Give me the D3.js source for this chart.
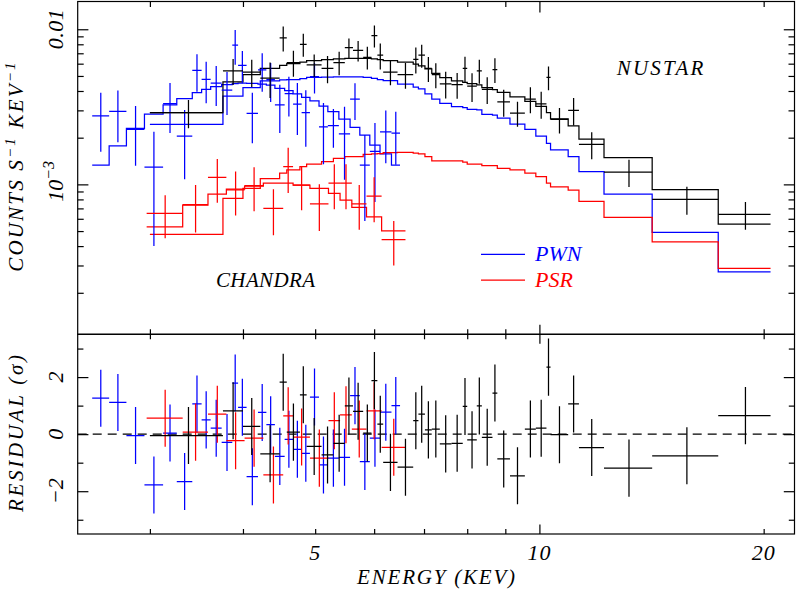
<!DOCTYPE html>
<html><head><meta charset="utf-8">
<script src="https://cdn.jsdelivr.net/npm/d3@7"></script>
<style>
body{margin:0;background:#fff;}
svg{display:block;}
text{font-family:"Liberation Serif","DejaVu Serif",serif;font-style:italic;}
</style></head><body>
<svg id="c" width="797" height="592"></svg>
<script>
// ---------- NuSTAR (black) ----------
const nuEdges = [3.00,3.76,4.00,4.22,4.48,4.58,4.77,4.87,5.10,5.29,5.48,5.62,5.80,5.95,6.06,6.17,6.45,6.77,6.88,7.02,7.17,7.35,7.62,7.89,8.00,8.24,8.37,8.65,8.78,9.13,9.56,9.89,10.22,10.35,10.93,11.30,12.21,14.17,17.38,20.43];
const nuFlux = [0.00290,0.00540,0.00530,0.00485,0.00880,0.00610,0.00800,0.00590,0.00560,0.00610,0.00760,0.00730,0.00660,0.00910,0.00680,0.00530,0.00510,0.00640,0.00680,0.00560,0.00510,0.00445,0.00440,0.00560,0.00430,0.00540,0.00410,0.00550,0.00340,0.00288,0.00355,0.00330,0.00490,0.00262,0.00300,0.00181,0.00120,0.00080,0.00064];
const nuErr = [0.00060,0.00103,0.00106,0.00125,0.00160,0.00116,0.00134,0.00098,0.00112,0.00105,0.00112,0.00110,0.00110,0.00147,0.00130,0.00095,0.00096,0.00122,0.00116,0.00103,0.00094,0.00087,0.00083,0.00104,0.00090,0.00095,0.00080,0.00100,0.00067,0.00053,0.00068,0.00065,0.00086,0.00049,0.00060,0.00036,0.00024,0.000164,0.00013];
const nuModel = [0.00290,0.00458,0.00510,0.00560,0.00585,0.00600,0.00615,0.00628,0.00638,0.00644,0.00648,0.00648,0.00648,0.00644,0.00638,0.00628,0.00614,0.00595,0.00580,0.00556,0.00520,0.00488,0.00465,0.00455,0.00446,0.00438,0.00420,0.00408,0.00392,0.00366,0.00343,0.00318,0.00290,0.00264,0.00238,0.00196,0.00149,0.000925,0.000555];
const nuPwnModel = [0.00244,0.00371,0.00420,0.00464,0.00471,0.00474,0.00480,0.00490,0.00492,0.00494,0.00494,0.00494,0.00489,0.00483,0.00474,0.00466,0.00443,0.00423,0.00412,0.00383,0.00355,0.00333,0.00317,0.00313,0.00305,0.00302,0.00283,0.00280,0.00267,0.00245,0.00226,0.00205,0.00184,0.00167,0.00151,0.00121,0.000866,0.000490,0.000273];
const nuPsrModel = [0.000476,0.000812,0.000942,0.00109,0.00118,0.00124,0.00130,0.00135,0.00140,0.00147,0.00151,0.00151,0.00156,0.00157,0.00158,0.00160,0.00161,0.00159,0.00157,0.00151,0.00142,0.00142,0.00142,0.00139,0.00135,0.00135,0.00132,0.00132,0.00127,0.00124,0.00118,0.00112,0.00102,0.000965,0.000919,0.000777,0.000612,0.000426,0.000287];
const nuResid = [-0.05,0.82,0.27,-0.69,1.82,0.07,1.38,-0.43,-0.73,-0.32,0.99,0.80,0.04,1.88,0.35,-0.99,-1.16,0.47,0.70,0.15,0.18,-0.34,-0.32,0.97,-0.20,0.99,-0.11,1.44,-0.87,-1.46,0.18,0.21,2.35,-0.02,1.06,-0.47,-1.19,-0.76,0.65];

// ---------- Chandra PWN (blue) ----------
const pwnEdges = [2.51,2.645,2.79,2.95,3.125,3.26,3.42,3.52,3.62,3.745,3.87,3.94,4.045,4.19,4.30,4.415,4.55,4.67,4.795,4.92,5.06,5.20,5.38,5.57,5.74,5.92,6.11,6.33,6.50];
const pwnFlux = [0.00276,0.00295,0.00226,0.00129,0.00332,0.00205,0.00543,0.00475,0.00450,0.00405,0.00790,0.00586,0.00287,0.00548,0.00473,0.00326,0.00384,0.00329,0.00290,0.00495,0.00235,0.00239,0.00212,0.00354,0.00133,0.00163,0.00218,0.00214];
const pwnErr = [0.00114,0.00108,0.00094,0.00089,0.00118,0.00097,0.00147,0.00142,0.00130,0.00125,0.00200,0.00138,0.00103,0.00152,0.00133,0.00112,0.00110,0.00121,0.00115,0.00110,0.00100,0.00067,0.00105,0.00094,0.00075,0.00086,0.00081,0.00080];
const pwnModel = [0.00133,0.00177,0.00230,0.00284,0.00326,0.00357,0.00390,0.00410,0.00426,0.00440,0.00447,0.00450,0.00448,0.00443,0.00437,0.00416,0.00402,0.00383,0.00364,0.00346,0.00320,0.00294,0.00263,0.00233,0.00208,0.00179,0.00157,0.00133];
const pwnResid = [1.26,1.11,-0.05,-1.78,0.04,-1.66,1.06,0.50,0.21,-0.29,1.79,0.94,-1.49,0.76,0.33,-0.78,-0.18,-0.53,-0.67,1.30,-1.08,-0.84,-0.81,1.35,-0.96,-0.14,0.77,1.00];

// ---------- Chandra PSR (red) ----------
const psrEdges = [2.97,3.32,3.59,3.80,4.02,4.26,4.53,4.67,4.92,5.21,5.40,5.60,5.86,6.14,6.61];
const psrFlux = [0.00065,0.00074,0.00111,0.00092,0.00098,0.00070,0.00130,0.00099,0.00075,0.00102,0.00102,0.00075,0.00084,0.00044];
const psrErr = [0.00020,0.00025,0.00035,0.00029,0.00031,0.00023,0.00042,0.00031,0.00025,0.00033,0.00033,0.00024,0.00027,0.00014];
const psrModel = [0.000533,0.000735,0.000866,0.000933,0.000975,0.00102,0.00102,0.00099,0.000942,0.000875,0.000792,0.000711,0.000618,0.000502];
const psrResid = [0.56,0.07,0.70,-0.23,-0.14,-1.43,0.64,-0.10,-0.84,0.47,0.68,0.18,0.82,-0.46];

// ---------- axes ----------
const xMinorTicks = [3,4,5,6,7,8,9,20];
const xMajorTicks = [10];
const xTickLabels = [5,10,20];
const yMajorTicks = [1e-3,1e-2];
const yMinorTicks = [2e-4,3e-4,4e-4,5e-4,6e-4,7e-4,8e-4,9e-4,2e-3,3e-3,4e-3,5e-3,6e-3,7e-3,8e-3,9e-3];
const rMajorTicks = [-2,0,2];
const rMinorTicks = [-3,-1,1,3];

const BLUE="#0000ff", RED="#ff0000", BLACK="#000000";
const L=77.7, R=794.5, T1=1.5, B1=334.3, B2=534;
const svg=d3.select("#c");
const x=d3.scaleLog().domain([2.4,22]).range([L,R]);
const y=d3.scaleLog().domain([1.08e-4,0.0151]).range([B1,T1]);
const yr=d3.scaleLinear().domain([-3.5,3.5]).range([B2,B1]);

svg.append("defs").html(
 `<clipPath id="cp1"><rect x="${L}" y="${T1}" width="${R-L}" height="${B1-T1}"/></clipPath>
  <clipPath id="cp2"><rect x="${L}" y="${B1}" width="${R-L}" height="${B2-B1}"/></clipPath>`);

const gTop=svg.append("g").attr("clip-path","url(#cp1)");
const gBot=svg.append("g").attr("clip-path","url(#cp2)");

const SW=1.25;
const stepLine=d3.line().x(d=>x(d[0])).y(d=>y(d[1])).curve(d3.curveStepAfter);
function steps(edges, vals){const p=vals.map((v,i)=>[edges[i],v]);p.push([edges[edges.length-1],vals[vals.length-1]]);return p;}
function drawModel(edges, vals, col){
  gTop.append("path").attr("d",stepLine(steps(edges,vals))).attr("fill","none").attr("stroke",col).attr("stroke-width",SW);
}
function drawData(edges, flux, err, col){
  const g=gTop.append("g").attr("stroke",col).attr("stroke-width",SW);
  flux.forEach((f,i)=>{
    const lo=edges[i], hi=edges[i+1], c=(lo+hi)/2;
    g.append("line").attr("x1",x(lo)).attr("x2",x(hi)).attr("y1",y(f)).attr("y2",y(f));
    g.append("line").attr("x1",x(c)).attr("x2",x(c)).attr("y1",y(Math.max(f-err[i],1.0e-4))).attr("y2",y(f+err[i]));
  });
}
function drawResid(edges, res, col){
  const g=gBot.append("g").attr("stroke",col).attr("stroke-width",SW);
  res.forEach((r,i)=>{
    const lo=edges[i], hi=edges[i+1], c=(lo+hi)/2;
    g.append("line").attr("x1",x(lo)).attr("x2",x(hi)).attr("y1",yr(r)).attr("y2",yr(r));
    g.append("line").attr("x1",x(c)).attr("x2",x(c)).attr("y1",yr(r-1)).attr("y2",yr(r+1));
  });
}

// models
drawModel(pwnEdges,pwnModel,BLUE);
drawModel(psrEdges,psrModel,RED);
drawModel(nuEdges,nuPwnModel,BLUE);
drawModel(nuEdges,nuPsrModel,RED);
drawModel(nuEdges,nuModel,BLACK);
// data
drawData(pwnEdges,pwnFlux,pwnErr,BLUE);
drawData(psrEdges,psrFlux,psrErr,RED);
drawData(nuEdges,nuFlux,nuErr,BLACK);

// residuals
gBot.append("line").attr("x1",L).attr("x2",R).attr("y1",yr(0)).attr("y2",yr(0))
  .attr("stroke","#000").attr("stroke-width",1.1).attr("stroke-dasharray","9,6");
drawResid(pwnEdges,pwnResid,BLUE);
drawResid(psrEdges,psrResid,RED);
drawResid(nuEdges,nuResid,BLACK);

// frames
[[T1,B1],[B1,B2]].forEach(([a,b])=>{
  svg.append("rect").attr("x",L).attr("y",a).attr("width",R-L).attr("height",b-a)
    .attr("fill","none").attr("stroke","#000").attr("stroke-width",1.2);
});

// ticks via d3 axes
function tk(axisFn, scale, vals, size, tx, ty){
  svg.append("g").attr("transform",`translate(${tx},${ty})`)
    .call(axisFn(scale).tickValues(vals).tickSize(size).tickFormat(""))
    .call(g=>{g.select(".domain").remove();g.selectAll("line").attr("stroke","#000").attr("stroke-width",1.2);});
}
tk(d3.axisTop,x,xMinorTicks,-5.5,0,T1); tk(d3.axisTop,x,xMajorTicks,-11,0,T1);
tk(d3.axisBottom,x,xMinorTicks,-5,0,B1); tk(d3.axisBottom,x,xMajorTicks,-9.5,0,B1);
tk(d3.axisTop,x,xMinorTicks,-5,0,B1); tk(d3.axisTop,x,xMajorTicks,-9.5,0,B1);
tk(d3.axisBottom,x,xMinorTicks,-5,0,B2); tk(d3.axisBottom,x,xMajorTicks,-9.5,0,B2);
tk(d3.axisLeft,y,yMinorTicks,-6,L,0); tk(d3.axisLeft,y,yMajorTicks,-10.7,L,0);
tk(d3.axisRight,y,yMinorTicks,-6,R,0); tk(d3.axisRight,y,yMajorTicks,-10.7,R,0);
tk(d3.axisLeft,yr,rMinorTicks,-5.7,L,0); tk(d3.axisLeft,yr,rMajorTicks,-10.7,L,0);
tk(d3.axisRight,yr,rMinorTicks,-5.7,R,0); tk(d3.axisRight,yr,rMajorTicks,-10.7,R,0);

// tick labels
const FS=22;
xTickLabels.forEach(v=>{
  svg.append("text").attr("x",x(v)).attr("y",560).attr("text-anchor","middle").attr("font-size",FS).attr("letter-spacing",1).text(v);
});
svg.append("text").attr("transform",`translate(63,${y(0.01)}) rotate(-90)`).attr("text-anchor","middle")
  .attr("font-size",FS).attr("textLength",40).attr("lengthAdjust","spacing").text("0.01");
const t3=svg.append("text").attr("transform",`translate(63,${y(1e-3)-3}) rotate(-90)`).attr("text-anchor","middle").attr("font-size",FS);
t3.append("tspan").text("10");
t3.append("tspan").attr("dy",-9).attr("font-size",16).text("\u22123");
rMajorTicks.forEach(v=>{
  svg.append("text").attr("transform",`translate(63,${yr(v)}) rotate(-90)`).attr("text-anchor","middle")
    .attr("font-size",FS).text(v<0?"\u2212"+(-v):String(v));
});

// axis titles
svg.append("text").attr("x",(L+R)/2).attr("y",584).attr("text-anchor","middle").attr("font-size",21)
  .attr("textLength",158).attr("lengthAdjust","spacing").text("ENERGY (KEV)");
svg.append("text").attr("transform",`translate(23,433.5) rotate(-90)`).attr("text-anchor","middle").attr("font-size",21)
  .attr("textLength",157).attr("lengthAdjust","spacing").text("RESIDUAL (\u03c3)");
const yl=svg.append("text").attr("transform",`translate(23,166) rotate(-90)`).attr("text-anchor","middle")
  .attr("font-size",21).attr("letter-spacing",2.2);
yl.append("tspan").text("COUNTS S");
yl.append("tspan").attr("dy",-8).attr("font-size",15).text("\u22121");
yl.append("tspan").attr("dy",8).text(" KEV");
yl.append("tspan").attr("dy",-8).attr("font-size",15).text("\u22121");

// annotations
svg.append("text").attr("x",616.7).attr("y",75).attr("font-size",21).attr("textLength",86.6).attr("lengthAdjust","spacing").text("NUSTAR");
svg.append("text").attr("x",216).attr("y",287.3).attr("font-size",21).attr("textLength",99).attr("lengthAdjust","spacing").text("CHANDRA");

// legend
const legendNames=["PWN","PSR"], legendColors=[BLUE,RED], legendY=[254.3,280];
legendNames.forEach((n,i)=>{
  svg.append("line").attr("x1",481).attr("x2",525).attr("y1",legendY[i]).attr("y2",legendY[i]).attr("stroke",legendColors[i]).attr("stroke-width",SW);
  svg.append("text").attr("x",535).attr("y",legendY[i]+7).attr("font-size",22).attr("fill",legendColors[i]).text(n);
});
</script>
</body></html>
